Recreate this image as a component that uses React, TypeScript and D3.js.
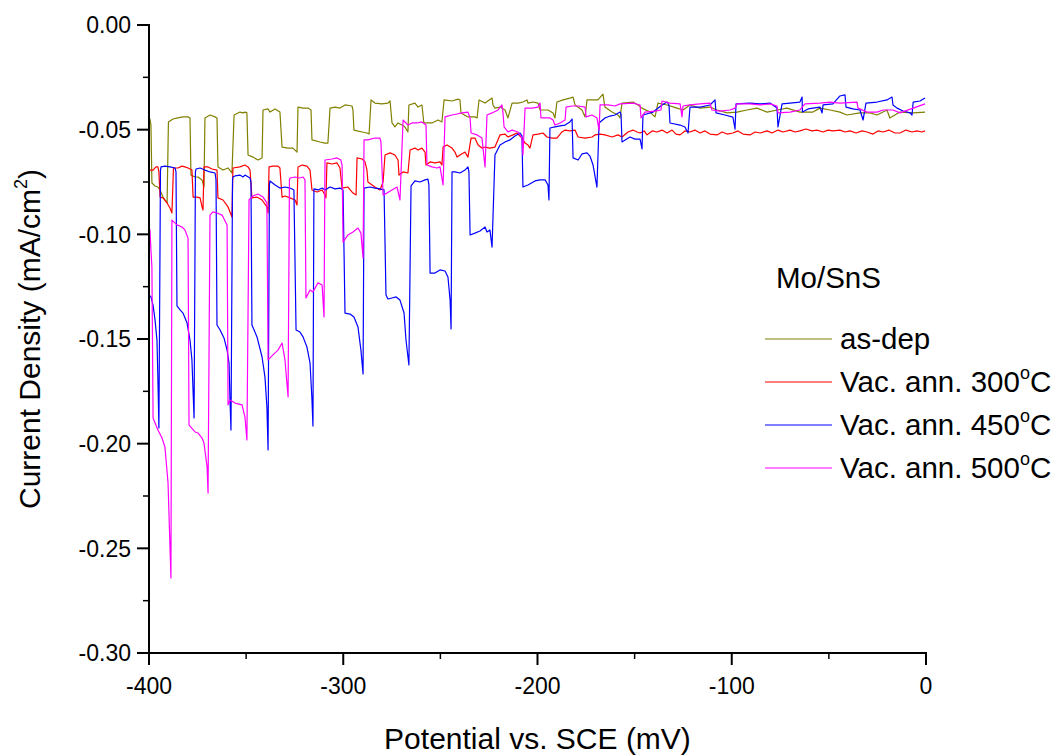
import React from "react";
import * as d3 from "d3";

// ---- data (Potential mV, Current density mA/cm^2) ----
const asDep: [number, number][] = [
  [-400, -0.0454], [-399.5, -0.0449], [-399.0, -0.0478], [-398.5, -0.0755], [-396.9, -0.0769], [-395.4, -0.0774],
  [-394.3, -0.0788], [-392.8, -0.0822], [-390.7, -0.085], [-390.0, -0.0463], [-387.6, -0.0449], [-385.1, -0.0444],
  [-382.5, -0.0439], [-379.9, -0.0439], [-378.9, -0.0444], [-378.4, -0.0717], [-376.3, -0.0726], [-374.8, -0.0726],
  [-372.7, -0.074], [-371.7, -0.0774], [-371.2, -0.0444], [-368.6, -0.043], [-366.0, -0.0439], [-365.0, -0.0444],
  [-364.5, -0.0678], [-361.9, -0.0693], [-359.3, -0.0683], [-357.3, -0.0707], [-356.2, -0.043], [-353.2, -0.0416],
  [-351.6, -0.042], [-350.6, -0.0416], [-349.6, -0.042], [-349.0, -0.0621], [-346.5, -0.0631], [-343.9, -0.0645],
  [-341.8, -0.0635], [-341.3, -0.0406], [-338.7, -0.0401], [-337.7, -0.0416], [-335.1, -0.0401], [-332.6, -0.0416],
  [-331.5, -0.0583], [-328.4, -0.0588], [-325.9, -0.0588], [-323.8, -0.0607], [-323.3, -0.0392], [-320.7, -0.0397],
  [-318.1, -0.0397], [-316.6, -0.0406], [-316.1, -0.0549], [-312.0, -0.0559], [-309.4, -0.0564], [-307.9, -0.0564],
  [-306.8, -0.0397], [-304.2, -0.0392], [-301.7, -0.0397], [-299.1, -0.0382], [-295.5, -0.0387], [-295.0, -0.0406],
  [-294.5, -0.0502], [-290.3, -0.0511], [-287.8, -0.0516], [-286.7, -0.0521], [-285.7, -0.0358], [-283.7, -0.0373],
  [-280.1, -0.0377], [-277.0, -0.0373], [-275.9, -0.0363], [-274.9, -0.0468], [-273.4, -0.0487], [-271.8, -0.0468],
  [-269.8, -0.0478], [-268.2, -0.0487], [-266.7, -0.0511], [-266.2, -0.0382], [-263.1, -0.0373], [-261.5, -0.0392],
  [-259.5, -0.0382], [-258.5, -0.0468], [-254.3, -0.0468], [-251.2, -0.0454], [-249.2, -0.0463], [-248.1, -0.0358],
  [-244.0, -0.0363], [-240.9, -0.0354], [-239.9, -0.0358], [-239.4, -0.042], [-235.8, -0.0439], [-232.2, -0.0439],
  [-231.1, -0.0444], [-230.1, -0.0358], [-227.0, -0.0373], [-223.4, -0.0349], [-222.9, -0.0382], [-221.9, -0.0397],
  [-219.3, -0.0392], [-216.7, -0.0406], [-215.2, -0.0444], [-213.1, -0.0373], [-210.0, -0.0373], [-207.5, -0.0368],
  [-205.4, -0.0358], [-204.9, -0.0373], [-202.3, -0.0368], [-199.7, -0.0373], [-198.7, -0.0406], [-194.6, -0.0406],
  [-192.0, -0.042], [-191.0, -0.0444], [-190.0, -0.0368], [-186.9, -0.0358], [-183.3, -0.0349], [-181.7, -0.0344],
  [-180.7, -0.0382], [-177.1, -0.0406], [-175.5, -0.0439], [-174.5, -0.0358], [-171.4, -0.0358], [-168.9, -0.0358],
  [-166.3, -0.033], [-165.3, -0.0392], [-161.6, -0.0416], [-158.6, -0.043], [-157.5, -0.0444], [-156.5, -0.0373],
  [-150.8, -0.0368], [-148.3, -0.0382], [-146.2, -0.0397], [-142.1, -0.0416], [-139.5, -0.0439], [-138.0, -0.0373],
  [-133.3, -0.0382], [-128.2, -0.0397], [-125.1, -0.0406], [-121.5, -0.0382], [-116.3, -0.0397], [-111.2, -0.0392],
  [-107.6, -0.0406], [-102.4, -0.042], [-97.3, -0.0416], [-92.2, -0.0406], [-87.0, -0.0397], [-81.8, -0.0416],
  [-76.7, -0.0406], [-71.6, -0.0397], [-64.9, -0.0416], [-58.2, -0.0416], [-54.6, -0.0397], [-49.4, -0.0406],
  [-44.3, -0.0416], [-40.7, -0.043], [-34.0, -0.042], [-28.8, -0.042], [-25.2, -0.043], [-20.1, -0.0406],
  [-18.6, -0.0444], [-13.4, -0.0416], [-6.6, -0.042], [-0.5, -0.0416],
];

const ann300: [number, number][] = [
  [-400, -0.0693], [-397.9, -0.0693], [-396.4, -0.0678], [-395.4, -0.0678], [-394.9, -0.0702], [-394.3, -0.0822],
  [-392.8, -0.0826], [-390.7, -0.085], [-389.2, -0.0874], [-388.2, -0.0898], [-387.4, -0.0683], [-385.1, -0.0683],
  [-383.0, -0.0674], [-381.5, -0.0678], [-379.9, -0.0683], [-377.9, -0.0693], [-377.3, -0.0822], [-375.3, -0.0822],
  [-373.7, -0.0826], [-372.7, -0.0869], [-372.2, -0.0884], [-371.7, -0.0678], [-369.6, -0.0678], [-367.6, -0.0688],
  [-365.0, -0.0693], [-364.5, -0.0826], [-361.9, -0.0836], [-359.3, -0.0869], [-357.3, -0.0917], [-356.8, -0.0683],
  [-353.2, -0.0678], [-350.6, -0.0669], [-349.0, -0.0678], [-348.0, -0.0693], [-347.0, -0.0826], [-344.4, -0.0822],
  [-341.8, -0.0836], [-339.3, -0.0869], [-338.7, -0.0898], [-338.2, -0.0678], [-336.2, -0.0674], [-333.6, -0.0674],
  [-332.6, -0.0683], [-331.5, -0.0822], [-330.0, -0.0817], [-327.4, -0.0826], [-324.8, -0.0836], [-323.8, -0.086],
  [-323.3, -0.0678], [-321.2, -0.0669], [-318.7, -0.0674], [-317.1, -0.0693], [-316.1, -0.0788], [-313.5, -0.0798],
  [-310.9, -0.0788], [-309.4, -0.0812], [-308.9, -0.0826], [-308.4, -0.0659], [-305.8, -0.0664], [-303.2, -0.0659],
  [-301.7, -0.0683], [-300.6, -0.0779], [-297.6, -0.0774], [-295.0, -0.0803], [-293.4, -0.0812], [-292.9, -0.0635],
  [-290.3, -0.064], [-288.8, -0.0654], [-287.8, -0.0693], [-287.3, -0.075], [-283.7, -0.0774], [-281.1, -0.0788],
  [-279.5, -0.075], [-278.5, -0.0621], [-275.9, -0.0611], [-273.4, -0.0621], [-271.8, -0.0645], [-271.3, -0.0717],
  [-269.2, -0.0702], [-266.7, -0.0707], [-265.6, -0.0597], [-263.1, -0.0588], [-261.5, -0.0597], [-259.5, -0.0588],
  [-257.9, -0.0607], [-257.4, -0.0669], [-255.3, -0.0654], [-252.8, -0.0659], [-250.2, -0.0654], [-249.2, -0.0669],
  [-248.6, -0.0583], [-246.6, -0.0573], [-244.0, -0.0588], [-242.5, -0.0607], [-241.4, -0.0631], [-239.9, -0.0621],
  [-237.3, -0.0607], [-235.8, -0.0631], [-234.2, -0.054], [-232.2, -0.054], [-230.6, -0.0573], [-228.6, -0.0588],
  [-227.0, -0.0583], [-224.5, -0.0588], [-221.9, -0.0583], [-219.3, -0.0525], [-216.7, -0.0521], [-215.2, -0.0535],
  [-212.6, -0.0525], [-210.6, -0.0516], [-208.0, -0.054], [-206.4, -0.0564], [-204.9, -0.0573], [-203.9, -0.0588],
  [-202.3, -0.0525], [-199.7, -0.0521], [-197.2, -0.0516], [-195.1, -0.0535], [-192.5, -0.054], [-190.0, -0.054],
  [-187.4, -0.0511], [-185.8, -0.0502], [-183.3, -0.0506], [-180.7, -0.0502], [-179.1, -0.0535], [-175.5, -0.054],
  [-171.9, -0.0535], [-170.4, -0.0525], [-167.8, -0.0521], [-165.3, -0.0525], [-161.6, -0.0535], [-158.6, -0.0525],
  [-156.5, -0.0535], [-153.4, -0.0511], [-150.8, -0.0502], [-148.8, -0.0511], [-147.2, -0.0516], [-145.1, -0.0506],
  [-143.6, -0.0525], [-141.0, -0.0506], [-138.5, -0.0511], [-135.9, -0.0502], [-133.3, -0.0516], [-130.7, -0.0502],
  [-128.7, -0.0521], [-126.6, -0.0525], [-124.1, -0.0506], [-121.5, -0.0511], [-119.0, -0.0502], [-116.3, -0.0516],
  [-113.8, -0.0506], [-111.2, -0.0521], [-107.6, -0.0525], [-105.0, -0.0511], [-102.4, -0.0521], [-99.4, -0.0516],
  [-96.8, -0.0506], [-94.2, -0.0521], [-90.6, -0.0525], [-88.0, -0.0511], [-85.4, -0.0516], [-81.8, -0.0506],
  [-79.3, -0.0516], [-76.2, -0.0502], [-73.6, -0.0511], [-70.0, -0.0502], [-67.4, -0.0511], [-64.9, -0.0506],
  [-61.8, -0.0497], [-58.7, -0.0506], [-56.1, -0.0502], [-53.0, -0.0511], [-50.4, -0.0502], [-47.9, -0.0506],
  [-44.3, -0.0502], [-41.7, -0.0511], [-39.1, -0.0506], [-36.0, -0.0516], [-32.9, -0.0506], [-30.4, -0.0511],
  [-27.3, -0.0521], [-24.7, -0.0506], [-22.1, -0.0511], [-19.1, -0.0502], [-16.0, -0.0516], [-13.4, -0.0516],
  [-10.3, -0.0502], [-7.2, -0.0511], [-4.7, -0.0506], [-2.1, -0.0511], [-0.5, -0.0506],
];

const ann450: [number, number][] = [
  [-400, -0.129], [-399.0, -0.1299], [-397.9, -0.1338], [-396.9, -0.1409], [-395.9, -0.1505], [-395.4, -0.1696],
  [-394.9, -0.1925], [-394.1, -0.0693], [-393.8, -0.0678], [-391.8, -0.0674], [-389.2, -0.0678], [-386.6, -0.0683],
  [-386.1, -0.0702], [-385.6, -0.1342], [-384.0, -0.1361], [-382.5, -0.1376], [-380.4, -0.1424], [-378.9, -0.1505],
  [-377.9, -0.16], [-376.8, -0.1877], [-376.1, -0.0702], [-375.8, -0.0688], [-373.7, -0.0683], [-371.2, -0.0693],
  [-368.6, -0.0702], [-366.0, -0.0707], [-365.5, -0.074], [-365.0, -0.1433], [-363.4, -0.1457], [-361.4, -0.1495],
  [-359.8, -0.1553], [-358.8, -0.1615], [-358.3, -0.1791], [-357.8, -0.1935], [-357.0, -0.074], [-356.8, -0.0726],
  [-355.7, -0.0721], [-353.2, -0.0717], [-351.6, -0.0726], [-350.6, -0.0717], [-348.0, -0.0731], [-347.5, -0.075],
  [-347.0, -0.1433], [-344.4, -0.149], [-341.8, -0.1586], [-340.3, -0.1682], [-339.3, -0.1825], [-338.7, -0.203],
  [-338.0, -0.0764], [-337.7, -0.0745], [-335.1, -0.0764], [-332.6, -0.0779], [-330.0, -0.0774], [-327.4, -0.0779],
  [-325.4, -0.0788], [-324.3, -0.1457], [-322.3, -0.1467], [-320.7, -0.149], [-318.7, -0.1538], [-317.1, -0.1615],
  [-316.1, -0.1791], [-315.6, -0.1916], [-315.1, -0.0783], [-313.0, -0.0788], [-310.9, -0.0779], [-309.4, -0.0788],
  [-306.8, -0.0774], [-304.2, -0.0783], [-301.7, -0.0779], [-300.1, -0.0788], [-299.1, -0.1376], [-296.5, -0.1381],
  [-294.5, -0.1395], [-292.4, -0.1443], [-290.9, -0.1553], [-289.8, -0.1667], [-289.3, -0.0779], [-286.2, -0.0774],
  [-283.7, -0.0779], [-281.1, -0.0783], [-279.0, -0.0788], [-278.0, -0.129], [-277.0, -0.1309], [-274.9, -0.1304],
  [-272.8, -0.1299], [-270.8, -0.1314], [-268.7, -0.1376], [-267.7, -0.1505], [-266.2, -0.1624], [-265.1, -0.0769],
  [-263.1, -0.0745], [-260.5, -0.075], [-257.9, -0.074], [-256.4, -0.0736], [-255.9, -0.0764], [-255.3, -0.1185],
  [-252.8, -0.1185], [-250.2, -0.117], [-247.6, -0.1175], [-246.1, -0.1204], [-245.0, -0.1314], [-244.5, -0.1452],
  [-244.0, -0.0702], [-242.5, -0.0702], [-239.9, -0.0707], [-237.3, -0.0693], [-235.8, -0.0678], [-235.3, -0.0702],
  [-234.7, -0.1003], [-232.2, -0.0994], [-229.6, -0.0984], [-227.0, -0.0965], [-226.0, -0.0989], [-224.5, -0.0979],
  [-223.4, -0.1061], [-221.9, -0.0621], [-219.3, -0.0573], [-216.7, -0.0559], [-214.2, -0.0549], [-211.6, -0.053],
  [-209.0, -0.0516], [-208.0, -0.053], [-207.5, -0.0774], [-204.9, -0.0764], [-201.3, -0.0745], [-198.7, -0.074],
  [-196.1, -0.074], [-194.6, -0.0764], [-194.1, -0.0836], [-193.6, -0.0492], [-191.0, -0.0487], [-188.4, -0.0482],
  [-185.8, -0.0478], [-183.3, -0.0463], [-182.2, -0.0449], [-181.7, -0.0635], [-179.1, -0.0645], [-177.1, -0.0616],
  [-174.5, -0.0611], [-173.0, -0.0626], [-171.4, -0.0669], [-169.4, -0.0774], [-168.3, -0.0468], [-165.3, -0.0444],
  [-162.7, -0.0435], [-160.1, -0.043], [-157.5, -0.0416], [-157.0, -0.0425], [-156.5, -0.0559], [-152.4, -0.0535],
  [-149.8, -0.0545], [-147.2, -0.0545], [-146.2, -0.0592], [-145.7, -0.043], [-140.5, -0.0416], [-135.9, -0.0382],
  [-133.3, -0.0368], [-132.3, -0.0382], [-131.8, -0.0468], [-126.6, -0.0478], [-124.1, -0.0487], [-122.5, -0.0516],
  [-121.5, -0.0392], [-116.3, -0.0392], [-111.2, -0.0382], [-108.6, -0.0358], [-108.1, -0.042], [-103.5, -0.043],
  [-99.4, -0.044], [-98.3, -0.0497], [-97.8, -0.0377], [-90.6, -0.0373], [-85.4, -0.0377], [-80.3, -0.0373],
  [-76.7, -0.0397], [-76.2, -0.0487], [-74.1, -0.0377], [-70.0, -0.0373], [-64.9, -0.0368], [-63.8, -0.0344],
  [-63.6, -0.0416], [-60.7, -0.0401], [-58.2, -0.0397], [-54.6, -0.0392], [-53.5, -0.042], [-53.0, -0.0382],
  [-47.9, -0.0377], [-44.3, -0.0339], [-41.7, -0.0334], [-41.2, -0.0392], [-37.6, -0.0401], [-34.0, -0.0406],
  [-32.4, -0.0454], [-30.9, -0.0373], [-25.2, -0.0368], [-20.1, -0.0358], [-17.5, -0.0344], [-17.0, -0.0382],
  [-14.9, -0.0397], [-11.8, -0.0411], [-8.2, -0.042], [-7.2, -0.043], [-6.6, -0.0368], [-3.1, -0.0363], [-0.5, -0.0349],
];

const ann500: [number, number][] = [
  [-400, -0.097], [-399.5, -0.0979], [-399.0, -0.1075], [-398.5, -0.1156], [-397.9, -0.1877], [-395.4, -0.1935],
  [-393.3, -0.1973], [-391.8, -0.2016], [-390.2, -0.2188], [-388.7, -0.2642], [-388.2, -0.0932], [-385.6, -0.0955],
  [-383.0, -0.0965], [-381.5, -0.0979], [-379.9, -0.1018], [-379.4, -0.1911], [-376.3, -0.1944], [-374.8, -0.1949],
  [-372.7, -0.1973], [-371.7, -0.1997], [-370.1, -0.2111], [-369.6, -0.2236], [-368.6, -0.0908], [-367.1, -0.0893],
  [-365.0, -0.0898], [-362.4, -0.0908], [-359.8, -0.0955], [-359.3, -0.1815], [-358.3, -0.1791], [-355.7, -0.1806],
  [-352.1, -0.1815], [-350.6, -0.1873], [-349.6, -0.1982], [-348.5, -0.0836], [-346.5, -0.0817], [-343.9, -0.0807],
  [-341.3, -0.0822], [-339.3, -0.085], [-338.7, -0.16], [-336.2, -0.1576], [-333.6, -0.1553], [-331.5, -0.1519],
  [-330.0, -0.16], [-328.4, -0.1777], [-327.7, -0.074], [-327.4, -0.0731], [-324.8, -0.0726], [-322.3, -0.0731],
  [-320.7, -0.0726], [-319.7, -0.074], [-319.2, -0.1304], [-317.1, -0.1266], [-315.6, -0.1275], [-313.0, -0.1232],
  [-310.9, -0.1242], [-309.9, -0.1395], [-309.4, -0.0645], [-305.8, -0.064], [-303.2, -0.0635], [-301.2, -0.0645],
  [-300.6, -0.0669], [-300.1, -0.1037], [-297.6, -0.1003], [-295.0, -0.0989], [-292.4, -0.097], [-290.9, -0.0994],
  [-289.8, -0.1113], [-289.3, -0.0549], [-287.3, -0.0549], [-283.7, -0.054], [-281.1, -0.054], [-280.6, -0.0559],
  [-279.5, -0.0812], [-277.5, -0.0803], [-274.9, -0.0788], [-272.3, -0.0774], [-270.8, -0.0836], [-269.2, -0.0454],
  [-266.7, -0.0478], [-264.6, -0.0468], [-262.0, -0.0468], [-259.5, -0.0463], [-257.4, -0.0478], [-256.9, -0.0669],
  [-254.3, -0.0678], [-251.7, -0.0683], [-250.2, -0.0678], [-248.6, -0.0764], [-247.6, -0.0439], [-244.0, -0.043],
  [-241.4, -0.0425], [-238.9, -0.042], [-235.8, -0.0416], [-234.7, -0.0444], [-234.2, -0.0516], [-231.1, -0.0525],
  [-228.6, -0.054], [-227.0, -0.0678], [-226.0, -0.043], [-223.4, -0.042], [-220.3, -0.0406], [-218.3, -0.0382],
  [-217.8, -0.0416], [-217.2, -0.0487], [-215.2, -0.0511], [-213.1, -0.0502], [-210.0, -0.0511], [-208.0, -0.054],
  [-207.5, -0.0621], [-206.4, -0.0397], [-202.8, -0.0397], [-199.7, -0.0392], [-198.7, -0.0373], [-198.2, -0.0444],
  [-196.1, -0.0444], [-193.6, -0.0444], [-192.0, -0.0454], [-191.0, -0.0478], [-188.4, -0.0468], [-185.8, -0.0454],
  [-185.3, -0.0392], [-182.2, -0.0387], [-179.1, -0.0387], [-175.5, -0.0392], [-175.0, -0.0439], [-171.9, -0.043],
  [-169.4, -0.0444], [-168.3, -0.0502], [-167.8, -0.0382], [-163.7, -0.0382], [-160.1, -0.0387], [-157.5, -0.0377],
  [-150.8, -0.0373], [-147.2, -0.0382], [-146.7, -0.0444], [-144.7, -0.0416], [-139.5, -0.0411], [-136.4, -0.0406],
  [-135.9, -0.0363], [-131.8, -0.0373], [-126.6, -0.0377], [-125.6, -0.0439], [-125.1, -0.0387], [-121.5, -0.0382],
  [-116.3, -0.0377], [-111.2, -0.0373], [-110.2, -0.0406], [-106.1, -0.0411], [-100.9, -0.0406], [-98.3, -0.0397],
  [-97.3, -0.0377], [-90.6, -0.0377], [-85.4, -0.0382], [-80.3, -0.0377], [-76.7, -0.0387], [-76.2, -0.042],
  [-70.0, -0.0416], [-64.9, -0.0406], [-62.3, -0.0377], [-54.6, -0.0373], [-49.4, -0.0368], [-44.3, -0.0373],
  [-35.5, -0.0368], [-35.0, -0.0397], [-30.4, -0.0416], [-25.2, -0.0416], [-22.1, -0.0406], [-17.0, -0.0406],
  [-13.4, -0.042], [-6.6, -0.0397], [-0.5, -0.0377],
];

const seriesNames = ["as-dep", "Vac. ann. 300", "Vac. ann. 450", "Vac. ann. 500"];
const seriesData = [asDep, ann300, ann450, ann500];
const xTicks = [-400, -300, -200, -100, 0];
const xMinorTicks = [-350, -250, -150, -50];
const yTicks = [0, -0.05, -0.1, -0.15, -0.2, -0.25, -0.3];
const yMinorTicks = [-0.025, -0.075, -0.125, -0.175, -0.225, -0.275];

const colors = ["#808000", "#FF0000", "#0000FF", "#FF00FF"];

const W = 1058;
const H = 755;
const M = { left: 149, right: 926, top: 25, bottom: 653 };
const FONT = "'Liberation Sans', Arial, Helvetica, sans-serif";

export default function App() {
  const x = d3.scaleLinear().domain([-400, 0]).range([M.left, M.right]);
  const y = d3.scaleLinear().domain([-0.3, 0]).range([M.bottom, M.top]);
  const line = d3
    .line<[number, number]>()
    .x((d) => x(d[0]))
    .y((d) => y(d[1]));

  const legendX = 765;
  const legendY0 = 339;
  const legendDy = 43;

  return (
    <svg
      width={W}
      height={H}
      style={{ position: "absolute", left: 0, top: 0, background: "#fff" }}
      fontFamily={FONT}
    >
      <rect x={0} y={0} width={W} height={H} fill="#fff" />
      {/* series */}
      <g fill="none" strokeWidth={1.2} strokeLinejoin="round">
        {seriesData.map((s, i) => (
          <path key={i} d={line(s) || ""} stroke={colors[i]} />
        ))}
      </g>

      {/* axes */}
      <g stroke="#000" strokeWidth={2}>
        <line x1={M.left} x2={M.left} y1={M.top - 1} y2={M.bottom + 1} />
        <line x1={M.left - 1} x2={M.right + 1} y1={M.bottom} y2={M.bottom} />
        {yTicks.map((t) => (
          <line key={"yt" + t} x1={M.left - 12} x2={M.left} y1={y(t)} y2={y(t)} />
        ))}
        {yMinorTicks.map((t) => (
          <line key={"ym" + t} x1={M.left - 6} x2={M.left} y1={y(t)} y2={y(t)} strokeWidth={1.5} />
        ))}
        {xTicks.map((t) => (
          <line key={"xt" + t} x1={x(t)} x2={x(t)} y1={M.bottom} y2={M.bottom + 12} />
        ))}
        {xMinorTicks.map((t) => (
          <line key={"xm" + t} x1={x(t)} x2={x(t)} y1={M.bottom} y2={M.bottom + 6} strokeWidth={1.5} />
        ))}
      </g>

      {/* tick labels */}
      <g fontSize={23} fill="#000">
        {yTicks.map((t) => (
          <text key={"yl" + t} x={M.left - 18} y={y(t)} dy="0.36em" textAnchor="end">
            {d3.format(".2f")(t).replace("−", "-")}
          </text>
        ))}
        {xTicks.map((t) => (
          <text key={"xl" + t} x={x(t)} y={M.bottom + 41} textAnchor="middle">
            {String(t)}
          </text>
        ))}
      </g>

      {/* axis titles */}
      <text x={(M.left + M.right) / 2} y={749} fontSize={30} textAnchor="middle">
        Potential vs. SCE (mV)
      </text>
      <text
        transform={`translate(40, ${(M.top + M.bottom) / 2}) rotate(-90)`}
        fontSize={30}
        textAnchor="middle"
      >
        Current Density (mA/cm
        <tspan fontSize={18} dy={-13}>2</tspan>
        <tspan dy={13}>)</tspan>
      </text>

      {/* legend */}
      <text x={776} y={288} fontSize={29.5}>Mo/SnS</text>
      {seriesNames.map((n, i) => (
        <g key={n}>
          <line
            x1={legendX}
            x2={legendX + 67}
            y1={legendY0 + i * legendDy}
            y2={legendY0 + i * legendDy}
            stroke={colors[i]}
            strokeWidth={1.2}
          />
          <text x={840} y={legendY0 + i * legendDy + 10} fontSize={29.5}>
            {n}
            {i > 0 && (
              <>
                <tspan fontSize={18} dy={-13}>o</tspan>
                <tspan dy={13}>C</tspan>
              </>
            )}
          </text>
        </g>
      ))}
    </svg>
  );
}
